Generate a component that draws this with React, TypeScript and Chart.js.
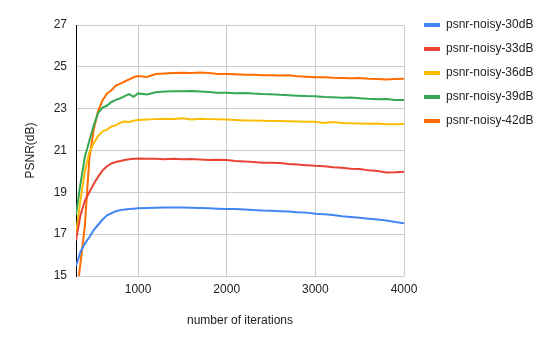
import React, { useEffect, useRef } from "react";
import { Chart, registerables } from "chart.js";

Chart.register(...registerables);

const iterations = [
  300, 350, 400, 450, 500, 550, 600, 650, 700, 750, 800, 850, 900, 950, 1000,
  1100, 1200, 1300, 1400, 1500, 1600, 1700, 1800, 1900, 2000,
  2100, 2200, 2300, 2400, 2500, 2600, 2700, 2800, 2900, 3000,
  3100, 3200, 3300, 3400, 3500, 3600, 3700, 3800, 3900, 4000,
];
const xTickValues = [1000, 2000, 3000, 4000];

const psnr30 = [
  15.48, 16.15, 16.55, 16.85, 17.2, 17.45, 17.7, 17.9, 18.0, 18.1, 18.15, 18.18, 18.2, 18.22, 18.24,
  18.25, 18.26, 18.27, 18.28, 18.27, 18.26, 18.25, 18.24, 18.22, 18.2,
  18.2, 18.18, 18.15, 18.13, 18.12, 18.1, 18.08, 18.05, 18.03, 17.98,
  17.95, 17.92, 17.86, 17.82, 17.78, 17.74, 17.7, 17.65, 17.58, 17.52,
];
const psnr33 = [
  16.7, 17.9, 18.6, 19.0, 19.4, 19.75, 20.05, 20.25, 20.38, 20.45, 20.5, 20.55, 20.58, 20.6, 20.62,
  20.6, 20.6, 20.58, 20.6, 20.58, 20.59, 20.57, 20.55, 20.56, 20.54,
  20.5, 20.48, 20.45, 20.42, 20.41, 20.4, 20.36, 20.33, 20.3, 20.27,
  20.25, 20.2, 20.18, 20.13, 20.12, 20.05, 20.02, 19.95, 19.96, 19.98,
];
const psnr36 = [
  17.0, 18.6, 20.0, 20.9, 21.35, 21.7, 21.92, 22.0, 22.15, 22.2, 22.33, 22.38, 22.36, 22.42, 22.46,
  22.48, 22.5, 22.52, 22.51, 22.54, 22.48, 22.52, 22.5, 22.49, 22.48,
  22.46, 22.44, 22.43, 22.42, 22.41, 22.41, 22.4, 22.39, 22.38, 22.37,
  22.32, 22.36, 22.32, 22.3, 22.29, 22.28, 22.29, 22.26, 22.25, 22.27,
];
const psnr39 = [
  17.92, 19.4, 20.7, 21.45, 22.2, 22.8, 23.05, 23.15, 23.32, 23.42, 23.5, 23.6, 23.7, 23.57, 23.73,
  23.68, 23.78, 23.82, 23.83, 23.83, 23.84, 23.82, 23.8, 23.76, 23.76,
  23.74, 23.75, 23.72, 23.7, 23.69, 23.66, 23.64, 23.62, 23.6, 23.59,
  23.56, 23.54, 23.52, 23.53, 23.5, 23.47, 23.45, 23.46, 23.42, 23.41,
];
const psnr42 = [
  13.8, 15.6, 17.4, 20.6, 22.0, 22.9, 23.4, 23.73, 23.88, 24.1, 24.2, 24.3, 24.4, 24.5, 24.56,
  24.52, 24.66, 24.68, 24.7, 24.72, 24.71, 24.73, 24.7, 24.66, 24.66,
  24.64, 24.62, 24.62, 24.6, 24.6, 24.58, 24.6, 24.55, 24.53, 24.5,
  24.5, 24.48, 24.47, 24.46, 24.47, 24.43, 24.42, 24.4, 24.42, 24.43,
];

const seriesNames = [
  "psnr-noisy-30dB",
  "psnr-noisy-33dB",
  "psnr-noisy-36dB",
  "psnr-noisy-39dB",
  "psnr-noisy-42dB",
];
const seriesValues = [psnr30, psnr33, psnr36, psnr39, psnr42];
const seriesColors = ["#4285F4", "#EA4335", "#FBBC04", "#34A853", "#FF6D01"];

const FONT = "'Liberation Sans', Arial, sans-serif";
const TEXT = "#222222";

export default function App() {
  const ref = useRef<HTMLCanvasElement>(null);

  useEffect(() => {
    if (!ref.current) return;
    const chart = new Chart(ref.current, {
      type: "line",
      data: {
        datasets: seriesNames.map((name, i) => ({
          label: name,
          data: iterations.map((x, j) => ({ x, y: seriesValues[i][j] })),
          borderColor: seriesColors[i],
          backgroundColor: seriesColors[i],
          borderWidth: 2,
          pointRadius: 0,
          tension: 0,
          fill: false,
        })),
      },
      options: {
        animation: false,
        responsive: false,
        maintainAspectRatio: false,
        layout: { padding: { top: 7, right: 8.6, bottom: 0, left: 0 } },
        plugins: {
          title: {
            display: true,
            text: "",
            fullSize: false,
            padding: { top: 0, bottom: 3.6 },
            font: { size: 12, family: FONT },
          },
          tooltip: { enabled: false },
          legend: {
            position: "right",
            align: "start",
            maxWidth: 200,
            labels: {
              boxWidth: 16,
              boxHeight: 4,
              padding: 12,
              color: TEXT,
              font: { size: 12, family: FONT },
              generateLabels: (c: any) =>
                Chart.defaults.plugins.legend.labels
                  .generateLabels(c)
                  .map((l: any) => ({ ...l, lineWidth: 0, strokeStyle: "rgba(0,0,0,0)" })),
            },
          },
        },
        scales: {
          x: {
            type: "linear",
            min: 300,
            max: 4000,
            afterFit: (s: any) => {
              s.height = 69;
            },
            afterBuildTicks: (s: any) => {
              s.ticks = xTickValues.map((v) => ({ value: v }));
            },
            ticks: {
              padding: 6,
              color: TEXT,
              font: { size: 12, family: FONT },
              maxRotation: 0,
              autoSkip: false,
              callback: (v: any) => String(v),
            },
            grid: { color: "#cccccc", drawTicks: false, lineWidth: 1 },
            border: { display: false },
            title: {
              display: true,
              text: "number of iterations",
              color: TEXT,
              font: { size: 12, family: FONT },
              padding: { top: 0, bottom: 16.8 },
            },
          },
          y: {
            type: "linear",
            min: 15,
            max: 27,
            afterFit: (s: any) => {
              s.width = 76;
            },
            ticks: {
              stepSize: 2,
              padding: 9,
              color: TEXT,
              font: { size: 12, family: FONT },
            },
            grid: { color: "#cccccc", drawTicks: false, lineWidth: 1 },
            border: { display: true, color: "#000000", width: 1 },
            title: {
              display: true,
              text: "PSNR(dB)",
              color: TEXT,
              font: { size: 12, family: FONT },
              padding: { top: 23, bottom: 0 },
            },
          },
          y2: {
            type: "linear",
            position: "right",
            display: true,
            afterFit: (s: any) => {
              s.width = 8;
            },
            ticks: { display: false },
            grid: { display: false, drawTicks: false },
            border: { display: false },
          },
        },
      },
    });
    return () => chart.destroy();
  }, []);

  return (
    <div style={{ position: "absolute", left: 0, top: 0, width: 552, height: 345, background: "#ffffff" }}>
      <canvas ref={ref} width={552} height={345} style={{ width: 552, height: 345, display: "block" }} />
    </div>
  );
}
